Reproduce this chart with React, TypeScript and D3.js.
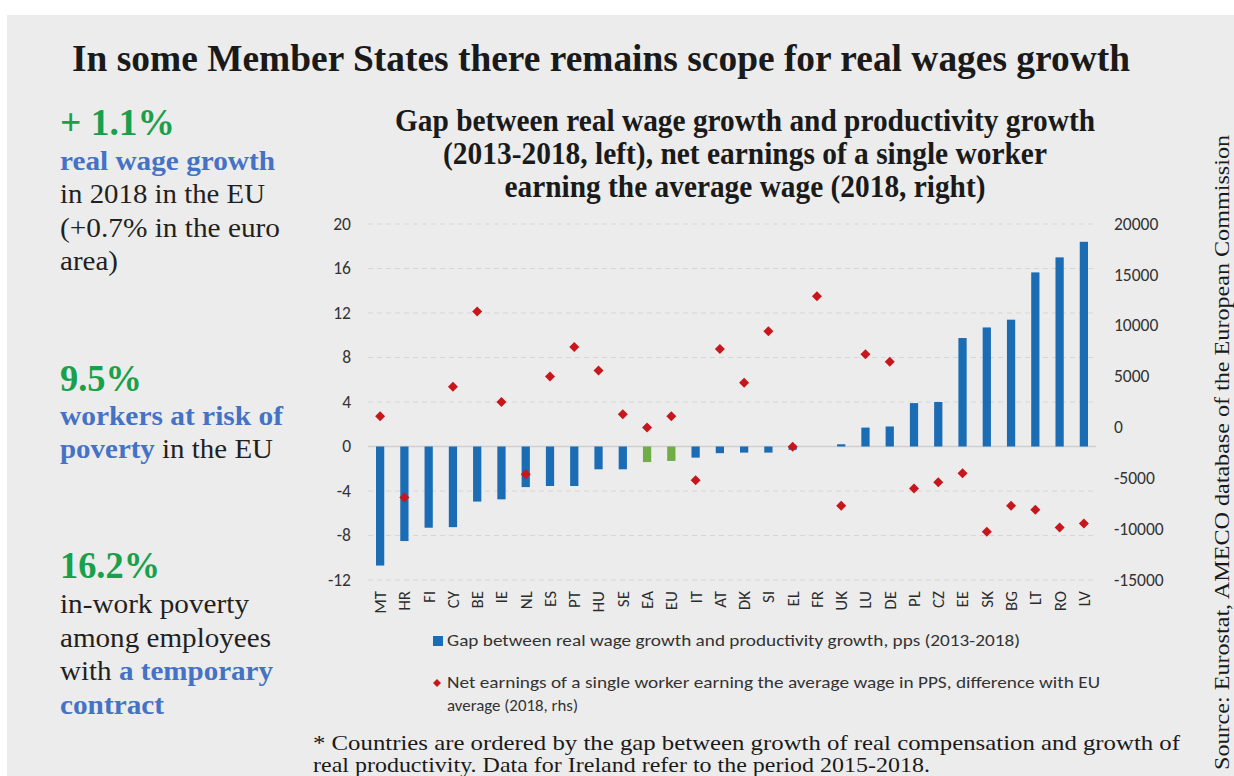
import * as React from "react";
import * as d3 from "d3";

const countries = ["MT", "HR", "FI", "CY", "BE", "IE", "NL", "ES", "PT", "HU", "SE", "EA", "EU", "IT", "AT", "DK", "SI", "EL", "FR", "UK", "LU", "DE", "PL", "CZ", "EE", "SK", "BG", "LT", "RO", "LV"];
// gap between real wage growth and productivity growth, pps (left axis)
const wageGap = [-10.7, -8.5, -7.3, -7.25, -4.95, -4.75, -3.65, -3.55, -3.55, -2.05, -2.05, -1.4, -1.3, -1.0, -0.6, -0.55, -0.55, -0.3, 0, 0.2, 1.7, 1.8, 3.9, 4.0, 9.75, 10.7, 11.4, 15.65, 17.0, 18.4];
// net earnings difference with EU average, PPS (right axis); FI has none
const netEarnings = [1100, -6900, null, 4000, 11400, 2500, -4600, 5000, 7900, 5600, 1300, 0, 1100, -5200, 7700, 4400, 9450, -1900, 12900, -7700, 7200, 6450, -6000, -5400, -4500, -10250, -7700, -8100, -9850, -9450];
const aggregates = ["EA", "EU"];

const leftTicks = [20, 16, 12, 8, 4, 0, -4, -8, -12];
const rightTicks = [20000, 15000, 10000, 5000, 0, -5000, -10000, -15000];

const blue = "#1a6cb5";
const green = "#70ad47";
const red = "#c8161d";
const serif = "'Liberation Serif', serif";
const sans = "Carlito, Lato, sans-serif";
const txtBlue = "#4472c4";
const txtGreen = "#18a04b";

// left column: text parts, baseline, width in px
type Part = { t: string; hl?: boolean };
const sideLines: { parts: Part[]; y: number; w: number; big?: boolean }[] = [
  { parts: [{ t: "+ 1.1%" }], y: 135, w: 115, big: true },
  { parts: [{ t: "real wage growth", hl: true }], y: 170, w: 215 },
  { parts: [{ t: "in 2018 in the EU" }], y: 203, w: 205 },
  { parts: [{ t: "(+0.7% in the euro" }], y: 237, w: 220 },
  { parts: [{ t: "area)" }], y: 270, w: 58 },
  { parts: [{ t: "9.5%" }], y: 391, w: 82, big: true },
  { parts: [{ t: "workers at risk of", hl: true }], y: 425, w: 223 },
  { parts: [{ t: "poverty", hl: true }, { t: " in the EU" }], y: 458, w: 213 },
  { parts: [{ t: "16.2%" }], y: 578, w: 100, big: true },
  { parts: [{ t: "in-work poverty" }], y: 613, w: 189 },
  { parts: [{ t: "among employees" }], y: 647, w: 211 },
  { parts: [{ t: "with " }, { t: "a temporary", hl: true }], y: 680, w: 213 },
  { parts: [{ t: "contract", hl: true }], y: 714, w: 104 },
];

export default function App() {
  const width = 1234;
  const height = 776;

  const x = d3.scaleBand().domain(countries).range([368, 1096]).paddingInner(0.66).paddingOuter(0.33);
  const yL = d3.scaleLinear().domain([-12, 20]).range([580, 224]);
  const yR = d3.scaleLinear().domain([-15000, 20000]).range([580, 224]);
  const diamond = d3.symbol(d3.symbolSquare, 50)();

  return (
    <svg width={width} height={height} style={{ position: "absolute", left: 0, top: 0 }}>
      <rect x={0} y={0} width={width} height={height} fill="#fff" />
      <rect x={7} y={15} width={width - 7} height={height - 15} fill="#ececec" />

      <text x={72} y={71} fontFamily={serif} fontWeight="bold" fontSize={38} fill="#1a1a1a" textLength={1058} lengthAdjust="spacingAndGlyphs">
        In some Member States there remains scope for real wages growth
      </text>

      {/* left column */}
      <g fontFamily={serif} fontSize={27} fill="#231f20">
        {sideLines.map((l, i) => (
          <text key={i} x={60} y={l.y} textLength={l.w} lengthAdjust="spacingAndGlyphs"
            fontSize={l.big ? 38 : 27} fontWeight={l.big ? "bold" : "normal"} fill={l.big ? txtGreen : "#231f20"}>
            {l.parts.map((p, j) => (
              <tspan key={j} fontWeight={p.hl || l.big ? "bold" : "normal"} fill={p.hl ? txtBlue : undefined}>{p.t}</tspan>
            ))}
          </text>
        ))}
      </g>

      {/* chart title */}
      <g fontFamily={serif} fontWeight="bold" fontSize={31} fill="#1a1a1a" textAnchor="middle">
        <text x={745} y={131} textLength={700} lengthAdjust="spacingAndGlyphs">Gap between real wage growth and productivity growth</text>
        <text x={745} y={164} textLength={604} lengthAdjust="spacingAndGlyphs">(2013-2018, left), net earnings of a single worker</text>
        <text x={745} y={197} textLength={481} lengthAdjust="spacingAndGlyphs">earning the average wage (2018, right)</text>
      </g>

      {/* grid */}
      {leftTicks.filter(t => t !== 0).map(t => (
        <line key={t} x1={368} x2={1096} y1={yL(t)} y2={yL(t)} stroke="#d6d6d6" strokeDasharray="5,4" />
      ))}
      <line x1={368} x2={1096} y1={yL(0)} y2={yL(0)} stroke="#cfcfcf" strokeWidth={1.5} />

      {/* axes labels */}
      <g fontFamily={sans} fontSize={17.5} fill="#333">
        {leftTicks.map(t => (
          <text key={t} x={351} y={yL(t)} dy="0.33em" textAnchor="end">{t}</text>
        ))}
        {rightTicks.map(t => (
          <text key={t} x={1114} y={yR(t)} dy="0.33em">{t}</text>
        ))}
      </g>
      <g fontFamily={sans} fontSize={17} fill="#2b2b2b">
        {countries.map(c => (
          <text key={c} transform={`translate(${x(c)! + x.bandwidth() / 2},591) rotate(-90)`} dy="0.35em" textAnchor="end">{c}</text>
        ))}
      </g>

      {/* bars */}
      {countries.map((c, i) => (
        <rect key={c} x={x(c)} width={x.bandwidth()} y={Math.min(yL(0), yL(wageGap[i]))} height={Math.abs(yL(wageGap[i]) - yL(0))}
          fill={aggregates.includes(c) ? green : blue} />
      ))}

      {/* diamonds */}
      {countries.map((c, i) => netEarnings[i] === null ? null : (
        <path key={c} d={diamond!} fill={red} transform={`translate(${x(c)! + x.bandwidth() / 2},${yR(netEarnings[i] as number)}) rotate(45)`} />
      ))}

      {/* legend */}
      <g fontFamily={sans} fontSize={17} fill="#333">
        <rect x={433} y={636} width={10} height={10} fill={blue} />
        <text x={447} y={646} textLength={573} lengthAdjust="spacingAndGlyphs">Gap between real wage growth and productivity growth, pps (2013-2018)</text>
        <path d={d3.symbol(d3.symbolSquare, 32)()!} fill={red} transform="translate(437,683) rotate(45)" />
        <text x={447} y={688} textLength={653} lengthAdjust="spacingAndGlyphs">Net earnings of a single worker earning the average wage in PPS, difference with EU</text>
        <text x={447} y={711} textLength={131} lengthAdjust="spacingAndGlyphs">average (2018, rhs)</text>
      </g>

      {/* footnote */}
      <g fontFamily={serif} fontSize={21} fill="#1a1a1a">
        <text x={313} y={750} textLength={867} lengthAdjust="spacingAndGlyphs">* Countries are ordered by the gap between growth of real compensation and growth of</text>
        <text x={313} y={772} textLength={617} lengthAdjust="spacingAndGlyphs">real productivity. Data for Ireland refer to the period 2015-2018.</text>
      </g>

      <text transform="translate(1229,770) rotate(-90)" fontFamily={serif} fontSize={22} fill="#1a1a1a" textLength={635} lengthAdjust="spacingAndGlyphs">
        Source: Eurostat, AMECO database of the European Commission
      </text>
    </svg>
  );
}
